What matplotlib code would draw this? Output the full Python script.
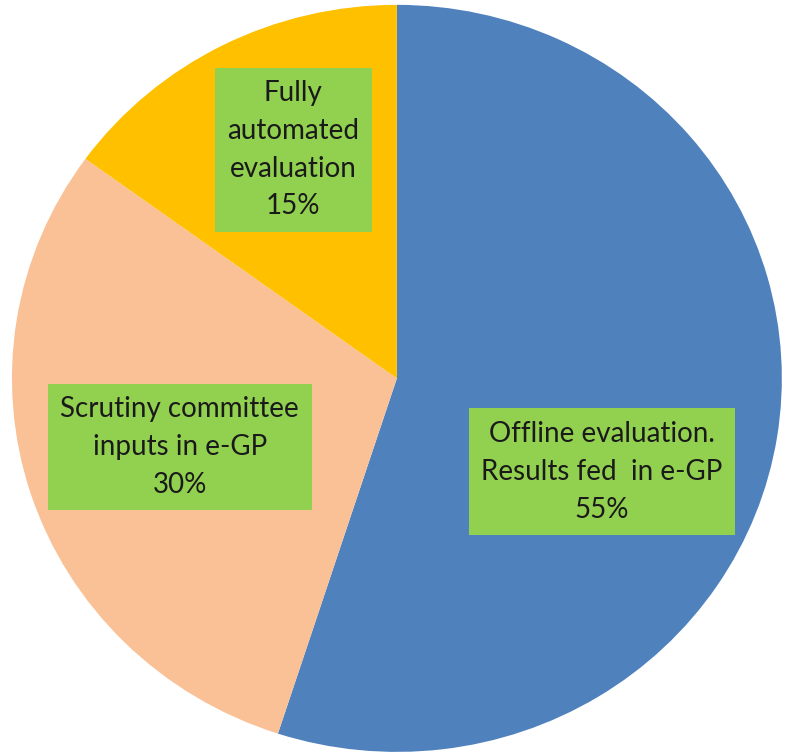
import matplotlib
matplotlib.use('Agg')
import matplotlib.pyplot as plt

# data
labels = ['Offline evaluation.\nResults fed  in e-GP', 'Scrutiny committee\ninputs in e-GP',
          'Fully\nautomated\nevaluation']
shares = [55, 30, 15]
colors = ['#4F81BD', '#F9C195', '#FFC000']

fig = plt.figure(figsize=(7.88, 7.56), dpi=100)
ax = fig.add_axes([0, 0, 1, 1])
ax.pie(shares, colors=colors, startangle=90, counterclock=False,
       wedgeprops=dict(linewidth=0))
ax.set_aspect('auto')
ax.set_xlim(-1.031, 1.016)
ax.set_ylim(-1.011, 1.013)
ax.axis('off')

# label boxes
label_pos = [(0.764, 0.376), (0.228, 0.409), (0.372, 0.802)]
for lab, val, (x, y) in zip(labels, shares, label_pos):
    fig.text(x, y, '%s\n%d%%' % (lab, val), ha='center', va='center',
             fontsize=20, family='Lato', color='#1a1a1a', linespacing=1.56,
             bbox=dict(boxstyle='square,pad=0.45', fc='#92D050', ec='none'))

fig.savefig('out.png', dpi=100)
